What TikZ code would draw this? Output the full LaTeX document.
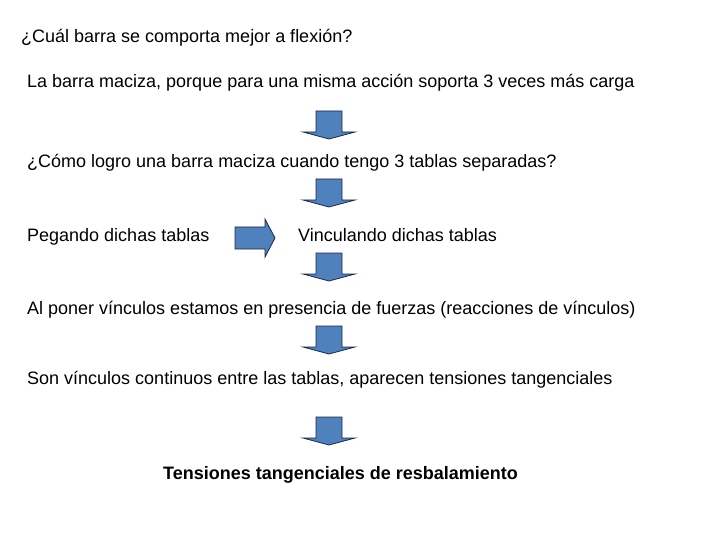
\documentclass[tikz,border=0pt]{standalone}
\usepackage{fontspec}
\setmainfont{Liberation Sans}
\definecolor{arrowblue}{RGB}{79,129,189}
\definecolor{arrowedge}{RGB}{30,40,70}
\tikzset{
  txt/.style={anchor=base west,inner sep=0pt,font=\fontsize{18}{21}\selectfont},
  arrowshape/.style={fill=arrowblue,draw=arrowedge,line width=0.8pt,line join=miter},
  pics/downarrow/.style={code={
    \path[arrowshape] (-13,0) -- (13,0) -- (13,21) -- (26,21) -- (0,28) -- (-26,21) -- (-13,21) -- cycle;
  }}
}
\begin{document}
\begin{tikzpicture}[x=1pt,y=-1pt]
\useasboundingbox (0,0) rectangle (720,540);
\node[txt] (q1) at (21,43) {¿Cuál barra se comporta mejor a flexión?};
\node[txt] (a1) at (27,88) {La barra maciza, porque para una misma acción soporta 3 veces más carga};
\pic at (329,111) {downarrow};
\node[txt] (q2) at (27,168) {¿Cómo logro una barra maciza cuando tengo 3 tablas separadas?};
\pic at (329,179) {downarrow};
\node[txt] (peg) at (27,241) {Pegando dichas tablas};
\path[arrowshape] (235,227) -- (265,227) -- (265,219) -- (275,238) -- (265,257) -- (265,249) -- (235,249) -- cycle;
\node[txt] (vin) at (298,241) {Vinculando dichas tablas};
\pic at (329,253) {downarrow};
\node[txt] (al) at (27,314) {Al poner vínculos estamos en presencia de fuerzas (reacciones de vínculos)};
\pic at (329,326) {downarrow};
\node[txt] (son) at (27,384) {Son vínculos continuos entre las tablas, aparecen tensiones tangenciales};
\pic at (329,417) {downarrow};
\node[txt,font=\fontsize{18}{21}\selectfont\bfseries] (ten) at (163,479) {Tensiones tangenciales de resbalamiento};
\end{tikzpicture}
\end{document}
